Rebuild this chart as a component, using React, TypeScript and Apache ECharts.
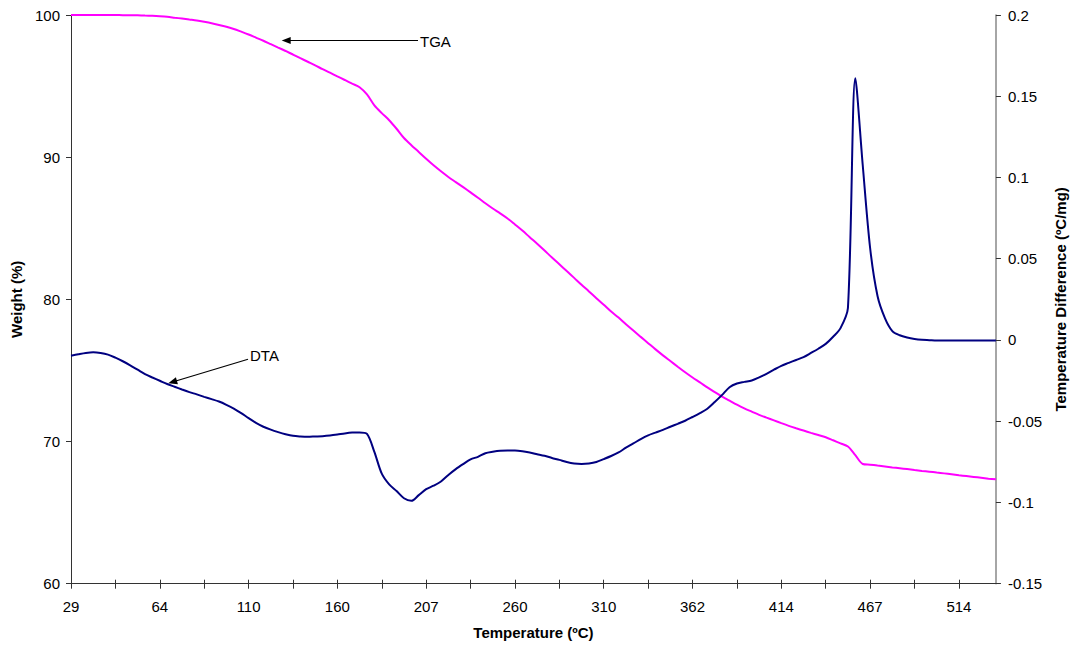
import React, { useEffect, useRef } from "react";
import * as echarts from "echarts";

// Temperature categories (ºC), one per sample; labels shown every 12th sample
const temperatures = [
  29, 32, 35, 38, 41, 44, 46, 49, 52, 55, 58, 61,
  64, 68, 72, 75, 79, 83, 87, 91, 95, 98, 102, 106,
  110, 114, 118, 123, 127, 131, 135, 139, 143, 148, 152, 156,
  160, 164, 168, 172, 176, 180, 184, 187, 191, 195, 199, 203,
  207, 211, 216, 220, 225, 229, 234, 238, 242, 247, 251, 256,
  260, 264, 268, 273, 277, 281, 285, 289, 293, 298, 302, 306,
  310, 314, 319, 323, 327, 332, 336, 340, 345, 349, 353, 358,
  362, 366, 371, 375, 379, 384, 388, 392, 397, 401, 405, 410,
  414, 418, 423, 427, 432, 436, 441, 445, 449, 454, 458, 463,
  467, 471, 475, 479, 483, 487, 491, 494, 498, 502, 506, 510,
  514, 518, 522, 526, 530, 534,
];

// TGA: weight (%)
const tgaWeight = [
  100, 100, 100, 100, 100, 100, 100, 99.99, 99.99, 99.98, 99.96, 99.94,
  99.91, 99.87, 99.81, 99.75, 99.68, 99.61, 99.52, 99.42, 99.3, 99.17, 99.02, 98.83,
  98.63, 98.41, 98.19, 97.95, 97.71, 97.47, 97.22, 96.96, 96.71, 96.46, 96.19, 95.94,
  95.68, 95.43, 95.17, 94.92, 94.41, 93.64, 93.1, 92.6, 92.0, 91.35, 90.84, 90.37,
  89.89, 89.43, 89.01, 88.61, 88.25, 87.89, 87.52, 87.15, 86.76, 86.39, 86.05, 85.69,
  85.27, 84.84, 84.37, 83.91, 83.43, 82.94, 82.47, 81.99, 81.51, 81.02, 80.56, 80.08,
  79.62, 79.14, 78.72, 78.25, 77.81, 77.36, 76.92, 76.48, 76.06, 75.66, 75.26, 74.87,
  74.5, 74.16, 73.81, 73.48, 73.16, 72.88, 72.59, 72.33, 72.1, 71.87, 71.68, 71.49,
  71.29, 71.1, 70.93, 70.77, 70.61, 70.46, 70.3, 70.09, 69.87, 69.65, 69.04, 68.42,
  68.37, 68.31, 68.25, 68.18, 68.12, 68.06, 67.99, 67.93, 67.88, 67.82, 67.76, 67.7,
  67.63, 67.57, 67.51, 67.45, 67.39, 67.34,
];

// DTA: temperature difference (ºC/mg)
const dtaDiff = [
  -0.0097, -0.0088, -0.008, -0.0076, -0.008, -0.009, -0.0109, -0.0131, -0.0156, -0.0183, -0.021, -0.0231,
  -0.0251, -0.0271, -0.0288, -0.0305, -0.0321, -0.0335, -0.035, -0.0364, -0.0379, -0.0399, -0.0422, -0.045,
  -0.0481, -0.051, -0.0534, -0.0552, -0.0567, -0.058, -0.059, -0.0594, -0.0596, -0.0594, -0.0592, -0.0588,
  -0.0582, -0.0575, -0.057, -0.0569, -0.0578, -0.0689, -0.0823, -0.0889, -0.093, -0.0974, -0.099, -0.0955,
  -0.0918, -0.0897, -0.0871, -0.0831, -0.0795, -0.0764, -0.0735, -0.0719, -0.0697, -0.0688, -0.0682, -0.0681,
  -0.0681, -0.0685, -0.0693, -0.0703, -0.0713, -0.0726, -0.0738, -0.0751, -0.076, -0.0763, -0.076, -0.0751,
  -0.0733, -0.0714, -0.0692, -0.0663, -0.0637, -0.061, -0.0587, -0.057, -0.0553, -0.0534, -0.0516, -0.0497,
  -0.0474, -0.045, -0.0423, -0.0382, -0.0338, -0.0291, -0.0268, -0.0258, -0.0249, -0.023, -0.0208, -0.0183,
  -0.0159, -0.0141, -0.0123, -0.0105, -0.008, -0.0054, -0.0024, 0.002, 0.0073, 0.0197, 0.161, 0.1077,
  0.0566, 0.0271, 0.0135, 0.0055, 0.0029, 0.0015, 0.0006, 0.0001, -0.0001, -0.0003, -0.0004, -0.0004,
  -0.0004, -0.0004, -0.0004, -0.0004, -0.0003, -0.0003,
];

const FONT = "'Liberation Sans', Arial, Helvetica, sans-serif";
const PLOT_W = 928;
const PLOT_H = 568.7;

function arrow(x1: number, y1: number, tx: number, ty: number) {
  const dx = tx - x1;
  const dy = ty - y1;
  const len = Math.sqrt(dx * dx + dy * dy);
  const ux = dx / len;
  const uy = dy / len;
  const hl = 9;
  const hw = 3.6;
  const bx = tx - ux * hl;
  const by = ty - uy * hl;
  const nx = -uy;
  const ny = ux;
  return [
    {
      type: "line",
      shape: { x1, y1, x2: bx + ux * 2, y2: by + uy * 2 },
      style: { stroke: "#000", lineWidth: 1.2 },
      silent: true,
    },
    {
      type: "polygon",
      shape: {
        points: [
          [tx, ty],
          [bx + nx * hw, by + ny * hw],
          [bx - nx * hw, by - ny * hw],
        ],
      },
      style: { fill: "#000" },
      silent: true,
    },
  ];
}

export default function App() {
  const ref = useRef<HTMLDivElement>(null);

  useEffect(() => {
    const chart = echarts.init(ref.current as HTMLDivElement, null, { renderer: "svg" });
    const tickLabel = { color: "#000", fontSize: 15, fontFamily: FONT };
    const nameStyle = { color: "#000", fontSize: 15, fontWeight: "bold", fontFamily: FONT };
    const tickStyle = { color: "#333", width: 1 };

    chart.setOption({
      animation: false,
      backgroundColor: "#fff",
      grid: { left: 71, right: 77, top: 15, bottom: 64.3, containLabel: false },
      xAxis: [
        {
          type: "category",
          data: temperatures.map(String),
          boundaryGap: false,
          position: "bottom",
          name: "Temperature (ºC)",
          nameLocation: "middle",
          nameGap: 41,
          nameTextStyle: nameStyle,
          axisLine: { show: true, onZero: false, lineStyle: { color: "#333", width: 1 } },
          axisTick: { show: true, interval: 5, length: 5, lineStyle: tickStyle },
          axisLabel: { ...tickLabel, interval: 11, margin: 15 },
          splitLine: { show: false },
        },
        {
          // upper half of the crossing ticks on the bottom axis
          type: "category",
          data: temperatures.map(String),
          boundaryGap: false,
          position: "top",
          offset: -PLOT_H,
          axisLine: { show: false, onZero: false },
          axisTick: { show: true, interval: 5, length: 4, lineStyle: tickStyle },
          axisLabel: { show: false },
          splitLine: { show: false },
        },
      ],
      yAxis: [
        {
          type: "value",
          min: 60,
          max: 100,
          interval: 10,
          position: "left",
          name: "Weight (%)",
          nameLocation: "middle",
          nameGap: 46,
          nameRotate: 90,
          nameTextStyle: nameStyle,
          axisLine: { show: true, onZero: false, lineStyle: { color: "#333", width: 1 } },
          axisTick: { show: true, length: 5, lineStyle: tickStyle },
          axisLabel: { ...tickLabel, margin: 11 },
          splitLine: { show: false },
        },
        {
          type: "value",
          min: -0.15,
          max: 0.2,
          interval: 0.05,
          position: "right",
          name: "Temperature Difference (ºC/mg)",
          nameLocation: "middle",
          nameGap: 55,
          nameRotate: 90,
          nameTextStyle: nameStyle,
          axisLine: { show: true, onZero: false, lineStyle: { color: "#888", width: 1.5 } },
          axisTick: { show: true, length: 5, lineStyle: tickStyle },
          axisLabel: {
            ...tickLabel,
            margin: 12,
            formatter: (v: number) => String(Math.round(v * 100) / 100),
          },
          splitLine: { show: false },
        },
      ],
      series: [
        {
          name: "TGA",
          type: "line",
          xAxisIndex: 0,
          yAxisIndex: 0,
          data: tgaWeight,
          showSymbol: false,
          symbol: "none",
          smooth: 0.3,
          lineStyle: { color: "#FF00FF", width: 2 },
          itemStyle: { color: "#FF00FF" },
          z: 3,
        },
        {
          name: "DTA",
          type: "line",
          xAxisIndex: 0,
          yAxisIndex: 1,
          data: dtaDiff,
          showSymbol: false,
          symbol: "none",
          smooth: 0.3,
          lineStyle: { color: "#000080", width: 2 },
          itemStyle: { color: "#000080" },
          z: 4,
        },
      ],
      graphic: [
        ...arrow(418, 40.5, 281.7, 40.5),
        {
          type: "text",
          left: 420,
          top: 34,
          style: { text: "TGA", fill: "#000", fontSize: 15, fontFamily: FONT },
          silent: true,
        },
        ...arrow(248, 359.3, 168.3, 383.3),
        {
          type: "text",
          left: 250,
          top: 348,
          style: { text: "DTA", fill: "#000", fontSize: 15, fontFamily: FONT },
          silent: true,
        },
      ],
    });

    return () => chart.dispose();
  }, []);

  return (
    <div
      ref={ref}
      style={{ position: "fixed", left: 0, top: 0, width: 1076, height: 648, background: "#fff" }}
    />
  );
}
